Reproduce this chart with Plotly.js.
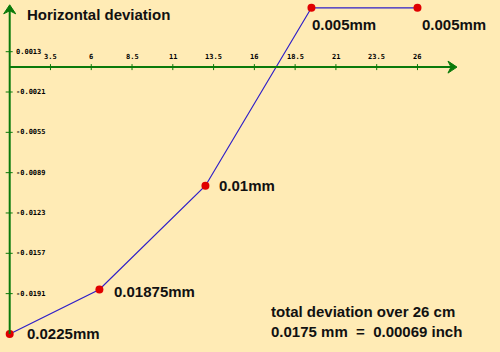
<!DOCTYPE html>
<html>
<head>
<meta charset="utf-8">
<script src="https://cdn.plot.ly/plotly-3.0.1.min.js"></script>
<style>html,body{margin:0;padding:0;background:#FFEBB5;}</style>
</head>
<body>
<div id="chart" style="width:500px;height:352px;"></div>
<script>
// ---- data ----
const positions = [1, 6.5, 13, 19.5, 26];
const deviations = [-0.0225, -0.01875, -0.01, 0.005, 0.005];
const pointLabels = ['0.0225mm', '0.01875mm', '0.01mm', '0.005mm', '0.005mm'];
const xTickValues = [3.5, 6, 8.5, 11, 13.5, 16, 18.5, 21, 23.5, 26];
const xTickLabels = ['3.5', '6', '8.5', '11', '13.5', '16', '18.5', '21', '23.5', '26'];
const yTickValues = [0.0013, -0.0021, -0.0055, -0.0089, -0.0123, -0.0157, -0.0191];
const yTickLabels = ['0.0013', '-0.0021', '-0.0055', '-0.0089', '-0.0123', '-0.0157', '-0.0191'];
const titleText = 'Horizontal deviation';
const noteLines = ['total deviation over 26 cm', '0.0175 mm  =  0.00069 inch'];

// ---- styling / placement ----
const labelShift = [[15, 0], [13, -2], [12, 0], [-1, -17], [3, -17]];
const axisColor = '#0a7a0a';
const textFont = {family: 'Liberation Sans, Arial', size: 15, color: '#111111', weight: 'bold'};
const xMin = 1, xMax = 28.3, yMin = -0.0225, yMax = 0.0050;
const xRange = [0.405, 31.06];
const yRange = [-0.024022, 0.005658];

const shapes = [];
const annotations = [];

// axis lines
shapes.push({type: 'line', xref: 'x', yref: 'y', x0: xMin, x1: xMax, y0: 0, y1: 0,
  line: {color: axisColor, width: 2}});
shapes.push({type: 'line', xref: 'x', yref: 'y', x0: xMin, x1: xMin, y0: yMin, y1: yMax,
  line: {color: axisColor, width: 2}});
// arrowheads
shapes.push({type: 'path', xref: 'x', yref: 'y', xsizemode: 'pixel', ysizemode: 'pixel',
  xanchor: xMax, yanchor: 0, path: 'M2,0 L-7,6 L-4,0 L-7,-6 Z',
  fillcolor: axisColor, line: {color: axisColor, width: 1}});
shapes.push({type: 'path', xref: 'x', yref: 'y', xsizemode: 'pixel', ysizemode: 'pixel',
  xanchor: xMin, yanchor: yMax, path: 'M0,3 L-6,-6 L0,-3 L6,-6 Z',
  fillcolor: axisColor, line: {color: axisColor, width: 1}});

// x ticks
xTickValues.forEach((v, i) => {
  shapes.push({type: 'line', xref: 'x', yref: 'y', xsizemode: 'scaled', ysizemode: 'pixel',
    yanchor: 0, x0: v, x1: v, y0: -3, y1: 3, line: {color: axisColor, width: 1}});
  annotations.push({x: v, y: 0, xref: 'x', yref: 'y', text: '<b>' + xTickLabels[i] + '</b>',
    showarrow: false, xanchor: 'center', yanchor: 'middle', yshift: 10,
    font: {family: 'DejaVu Sans Mono', size: 7, color: '#000000'}});
});
// y ticks
yTickValues.forEach((v, i) => {
  shapes.push({type: 'line', xref: 'x', yref: 'y', xsizemode: 'pixel', ysizemode: 'scaled',
    xanchor: xMin, x0: -4, x1: 3, y0: v, y1: v, line: {color: axisColor, width: 1}});
  annotations.push({x: xMin, y: v, xref: 'x', yref: 'y', text: '<b>' + yTickLabels[i] + '</b>',
    showarrow: false, xanchor: 'left', yanchor: 'middle', xshift: 4,
    font: {family: 'DejaVu Sans Mono', size: 7, color: '#000000'}});
});

// point labels
positions.forEach((x, i) => {
  annotations.push({x: x, y: deviations[i], xref: 'x', yref: 'y', text: pointLabels[i],
    showarrow: false, xanchor: 'left', yanchor: 'middle',
    xshift: labelShift[i][0], yshift: labelShift[i][1], font: textFont});
});

// title & note (positions given in pixels, converted to paper fractions)
annotations.push({x: 25, y: 337, xref: 'paper', yref: 'paper', text: titleText,
  showarrow: false, xanchor: 'left', yanchor: 'middle', font: textFont});
noteLines.forEach((t, i) => {
  annotations.push({x: 269, y: 41 - 20 * i, xref: 'paper', yref: 'paper', text: t,
    showarrow: false, xanchor: 'left', yanchor: 'middle', font: textFont});
});
annotations.forEach(a => { if (a.xref === 'paper') { a.x = a.x / 500; a.y = a.y / 352; } });

const trace = {
  x: positions, y: deviations, type: 'scatter', mode: 'lines+markers',
  line: {color: '#2f1fc8', width: 1.2},
  marker: {color: '#e00000', size: 8},
  cliponaxis: false, hoverinfo: 'none'
};

const layout = {
  width: 500, height: 352, autosize: false,
  margin: {l: 0, r: 0, t: 0, b: 0, pad: 0},
  paper_bgcolor: '#FFEBB5', plot_bgcolor: '#FFEBB5',
  showlegend: false,
  xaxis: {range: xRange, visible: false, fixedrange: true},
  yaxis: {range: yRange, visible: false, fixedrange: true},
  shapes: shapes, annotations: annotations
};

Plotly.newPlot('chart', [trace], layout, {staticPlot: true, displayModeBar: false});
</script>
</body>
</html>
